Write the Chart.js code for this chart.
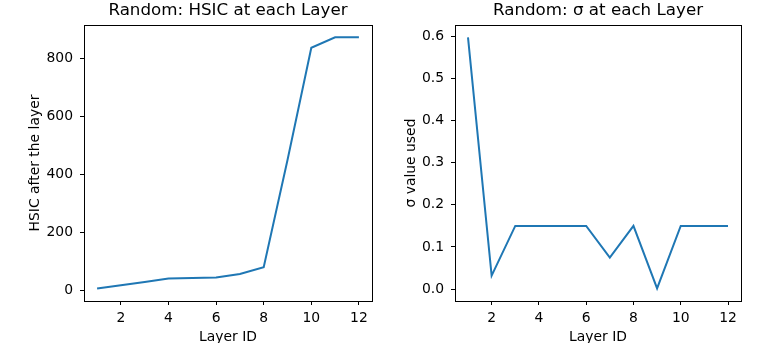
<!DOCTYPE html>
<html>
<head>
<meta charset="utf-8">
<script src="https://cdn.jsdelivr.net/npm/chart.js@4"></script>
<style>
  html, body { margin: 0; padding: 0; background: #fff; overflow: hidden; }
  .panel { position: absolute; top: 0; }
</style>
</head>
<body>
<div class="panel" style="left:0"><canvas id="hsic-chart" width="381" height="343"></canvas></div>
<div class="panel" style="left:381px"><canvas id="sigma-chart" width="382" height="343"></canvas></div>
<script>
// Data
const layerIds = [1, 2, 3, 4, 5, 6, 7, 8, 9, 10, 11, 12];
const hsicValues = [8, 19, 30, 42, 44, 46, 58, 81, 450, 836, 872, 872];
const sigmaValues = [0.597, 0.032, 0.15, 0.15, 0.15, 0.15, 0.075, 0.15, 0.002, 0.15, 0.15, 0.15];
const xTicks = [2, 4, 6, 8, 10, 12];
const hsicTicks = [0, 200, 400, 600, 800];
const sigmaTicks = [0, 0.1, 0.2, 0.3, 0.4, 0.5, 0.6];

const FONT = "'DejaVu Sans', sans-serif";
const LINE_COLOR = '#1f77b4';
const TICK_SIZE = 13.9;
const TITLE_SIZE = 16.7;

// draw the full box round the plot area (matplotlib style)
const frameBox = {
    id: 'frameBox',
    afterDraw(chart) {
        const { ctx, chartArea: a } = chart;
        ctx.save();
        ctx.strokeStyle = '#000';
        ctx.lineWidth = 1;
        ctx.strokeRect(Math.round(a.left) + 0.5, Math.round(a.top) + 0.5,
            Math.round(a.right - a.left), Math.round(a.bottom - a.top));
        ctx.restore();
    }
};

function makeChart(canvasId, opts) {
    const ctx = document.getElementById(canvasId).getContext('2d');
    return new Chart(ctx, {
        type: 'line',
        data: {
            datasets: [{
                data: layerIds.map((x, i) => ({ x: x, y: opts.values[i] })),
                borderColor: LINE_COLOR,
                borderWidth: 2,
                pointRadius: 0,
                tension: 0,
                fill: false
            }]
        },
        options: {
            responsive: false,
            animation: false,
            devicePixelRatio: 1,
            layout: { padding: { left: 0, right: opts.padRight, top: 0, bottom: 0 } },
            plugins: {
                legend: { display: false },
                tooltip: { enabled: false },
                title: {
                    display: true,
                    text: opts.title,
                    fullSize: false,
                    color: '#000',
                    font: { family: FONT, size: TITLE_SIZE, weight: 'normal', lineHeight: 1.2 },
                    padding: { top: 1, bottom: 4 }
                }
            },
            scales: {
                x: {
                    type: 'linear',
                    min: 0.45,
                    max: 12.55,
                    afterBuildTicks: s => { s.ticks = xTicks.map(v => ({ value: v })); },
                    afterFit: s => { s.height = 42; },
                    grid: { drawOnChartArea: false, drawTicks: true, tickLength: 4, color: '#000' },
                    border: { display: true, color: '#000', width: 1 },
                    ticks: { color: '#000', padding: 5, maxRotation: 0, font: { family: FONT, size: TICK_SIZE } },
                    title: {
                        display: true,
                        text: 'Layer ID',
                        color: '#000',
                        font: { family: FONT, size: TICK_SIZE, lineHeight: 0.8 },
                        padding: { top: 0, bottom: 0 }
                    }
                },
                y: {
                    type: 'linear',
                    min: opts.yMin,
                    max: opts.yMax,
                    afterBuildTicks: s => { s.ticks = opts.yTicks.map(v => ({ value: v })); },
                    afterFit: s => { s.width = opts.axisWidth; },
                    grid: { drawOnChartArea: false, drawTicks: true, tickLength: 4, color: '#000' },
                    border: { display: true, color: '#000', width: 1 },
                    ticks: {
                        color: '#000',
                        padding: 7,
                        font: { family: FONT, size: TICK_SIZE },
                        callback: opts.tickFormat
                    },
                    title: {
                        display: true,
                        text: opts.yLabel,
                        color: '#000',
                        font: { family: FONT, size: TICK_SIZE, lineHeight: 1.2 },
                        padding: { top: opts.yTitlePad, bottom: 0 }
                    }
                }
            }
        },
        plugins: [frameBox]
    });
}

// Left: HSIC per layer
makeChart('hsic-chart', {
    values: hsicValues,
    title: 'Random: HSIC at each Layer',
    yLabel: 'HSIC after the layer',
    yMin: -35,
    yMax: 914,
    yTicks: hsicTicks,
    tickFormat: v => String(v),
    axisWidth: 84,
    padRight: 9,
    yTitlePad: 27
});

// Right: sigma per layer
makeChart('sigma-chart', {
    values: sigmaValues,
    title: 'Random: σ at each Layer',
    yLabel: 'σ value used',
    yMin: -0.028,
    yMax: 0.626,
    yTicks: sigmaTicks,
    tickFormat: v => v.toFixed(1),
    axisWidth: 74,
    padRight: 22,
    yTitlePad: 22
});
</script>
</body>
</html>
